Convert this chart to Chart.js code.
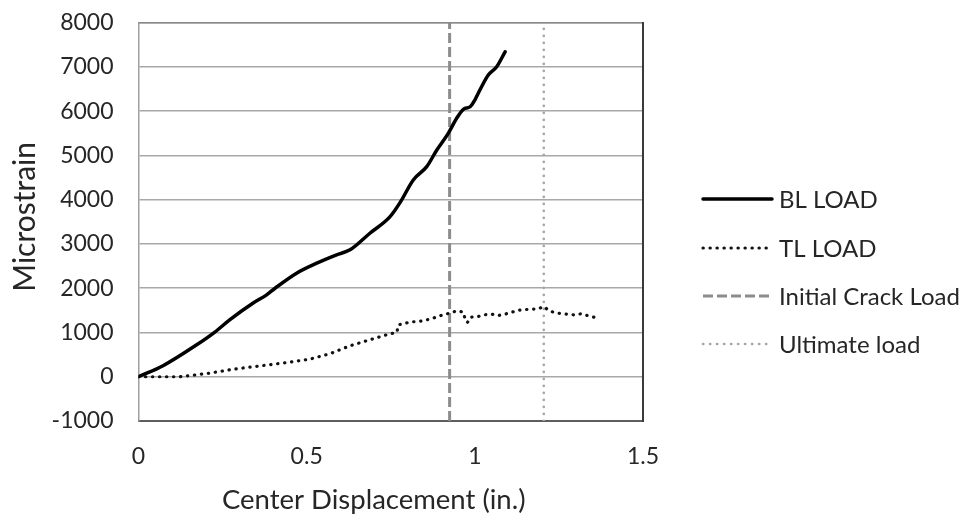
<!DOCTYPE html>
<html>
<head>
<meta charset="utf-8">
<script src="https://cdn.jsdelivr.net/npm/chart.js@4/dist/chart.umd.min.js"></script>
<style>
  html, body { margin: 0; padding: 0; background: #fff; }
  #wrap { width: 968px; height: 518px; position: relative; }
</style>
</head>
<body>
<div id="wrap"><canvas id="c" width="968" height="518"></canvas></div>
<script>
// Bottom-layer gauge: center displacement (in.) vs microstrain
const blDisp = [0, 0.073, 0.173, 0.227, 0.272, 0.341, 0.381, 0.406, 0.470, 0.530, 0.589, 0.629,
  0.688, 0.748, 0.778, 0.817, 0.857, 0.887, 0.921, 0.946, 0.966, 0.986, 1.000, 1.015, 1.040, 1.065, 1.090];
const blStrain = [0, 250, 722, 1010, 1290, 1665, 1851, 2000, 2340, 2566, 2754, 2867,
  3243, 3618, 3940, 4447, 4747, 5124, 5500, 5840, 6043, 6101, 6253, 6479, 6817, 7005, 7343];

// Top-layer gauge
const tlDisp = [0, 0.073, 0.124, 0.173, 0.213, 0.272, 0.331, 0.391, 0.450, 0.510, 0.569, 0.629,
  0.688, 0.748, 0.768, 0.773, 0.807, 0.847, 0.877, 0.906, 0.926, 0.946, 0.966, 0.971, 0.978, 0.988,
  1.010, 1.030, 1.050, 1.070, 1.090, 1.108, 1.125, 1.144, 1.166, 1.186, 1.206, 1.219, 1.233, 1.248,
  1.263, 1.293, 1.318, 1.343, 1.369];
const tlStrain = [0, 0, 0, 45, 83, 158, 218, 271, 331, 399, 519, 700,
  835, 971, 1000, 1174, 1234, 1264, 1325, 1400, 1437, 1490, 1460, 1302, 1226, 1347,
  1361, 1400, 1415, 1384, 1415, 1452, 1497, 1512, 1528, 1528, 1587, 1497, 1460, 1437,
  1422, 1400, 1422, 1362, 1325];

// Reference displacements for the load events
const crackDisp = 0.925;
const ultimateDisp = 1.205;

const xTicks = [0, 0.5, 1, 1.5];
const yTicks = [-1000, 0, 1000, 2000, 3000, 4000, 5000, 6000, 7000, 8000];

const seriesNames = ['BL LOAD', 'TL LOAD', 'Initial Crack Load', 'Ultimate load'];
const xTitle = 'Center Displacement (in.)';
const yTitle = 'Microstrain';

const FONT = 'Lato, "Open Sans", sans-serif';
const TEXT = '#262626';

const pts = (xs, ys) => xs.map((x, i) => ({ x, y: ys[i] }));
const yMin = yTicks[0], yMax = yTicks[yTicks.length - 1];
const vline = (x) => [{ x, y: yMin }, { x, y: yMax }];

// Legend drawn at the right, styled from each dataset
const sideLegend = {
  id: 'sideLegend',
  afterDraw(chart) {
    const ctx = chart.ctx;
    const x0 = 703, x1 = 772, tx = 779;
    const ys = [199, 248, 296, 344];
    ctx.save();
    chart.data.datasets.forEach((ds, i) => {
      ctx.beginPath();
      ctx.strokeStyle = ds.borderColor;
      ctx.lineWidth = ds.borderWidth;
      ctx.lineCap = ds.borderCapStyle || 'butt';
      ctx.setLineDash(ds.borderDash || []);
      ctx.moveTo(x0, ys[i]);
      ctx.lineTo(x1, ys[i]);
      ctx.stroke();
      ctx.setLineDash([]);
      ctx.fillStyle = TEXT;
      ctx.font = '24px ' + FONT;
      ctx.textBaseline = 'middle';
      ctx.textAlign = 'left';
      ctx.fillText(ds.label, tx, ys[i] + 1);
    });
    ctx.restore();
  }
};

// Plot frame (top and right edges) and the two axis titles
const frameAndTitles = {
  id: 'frameAndTitles',
  afterDraw(chart) {
    const { ctx, chartArea: a } = chart;
    ctx.save();
    ctx.lineWidth = 1.5;
    ctx.strokeStyle = '#8a8a8a';
    ctx.beginPath();
    ctx.moveTo(a.left, a.top); ctx.lineTo(a.right, a.top);
    ctx.stroke();
    ctx.lineWidth = 2;
    ctx.strokeStyle = '#3a3a3a';
    ctx.beginPath();
    ctx.moveTo(a.right, a.top - 0.75); ctx.lineTo(a.right, a.bottom + 1);
    ctx.stroke();

    ctx.fillStyle = TEXT;
    ctx.textAlign = 'center';
    ctx.textBaseline = 'middle';
    ctx.font = '27.5px ' + FONT;
    ctx.fillText(xTitle, (a.left + a.right) / 2 - 17, 500);
    ctx.font = '30px ' + FONT;
    ctx.translate(25, (a.top + a.bottom) / 2 - 5);
    ctx.rotate(-Math.PI / 2);
    ctx.fillText(yTitle, 0, 0);
    ctx.restore();
  }
};

new Chart(document.getElementById('c'), {
  type: 'scatter',
  data: {
    datasets: [
      {
        label: seriesNames[0], data: pts(blDisp, blStrain), showLine: true,
        borderColor: '#000', borderWidth: 3.5, pointRadius: 0, tension: 0.2,
        cubicInterpolationMode: 'monotone',
        borderCapStyle: 'round', borderJoinStyle: 'round'
      },
      {
        label: seriesNames[1], data: pts(tlDisp, tlStrain), showLine: true,
        borderColor: '#111', borderWidth: 3.2, pointRadius: 0, tension: 0,
        borderDash: [0.3, 6.7], borderCapStyle: 'round', borderJoinStyle: 'round'
      },
      {
        label: seriesNames[2], data: vline(crackDisp), showLine: true,
        borderColor: '#8c8c8c', borderWidth: 3, pointRadius: 0,
        borderDash: [10, 4], borderCapStyle: 'butt'
      },
      {
        label: seriesNames[3], data: vline(ultimateDisp), showLine: true,
        borderColor: '#a6a6a6', borderWidth: 2.6, pointRadius: 0,
        borderDash: [0.3, 6.7], borderCapStyle: 'round'
      }
    ]
  },
  options: {
    responsive: false,
    animation: false,
    layout: { padding: { left: 0, top: 22.7, right: 325, bottom: 0 } },
    plugins: { legend: { display: false }, tooltip: { enabled: false } },
    scales: {
      x: {
        type: 'linear', min: 0, max: 1.5,
        afterBuildTicks: (s) => { s.ticks = xTicks.map(v => ({ value: v })); },
        afterFit: (s) => { s.height = 97; },
        grid: { display: false, drawTicks: true, tickLength: 22, tickColor: 'rgba(0,0,0,0)' },
        border: { display: true, color: '#5e5e5e', width: 2 },
        ticks: {
          padding: 0, color: TEXT, font: { family: FONT, size: 23 },
          maxRotation: 0, callback: (v) => String(v)
        }
      },
      y: {
        type: 'linear', min: yMin, max: yMax,
        afterBuildTicks: (s) => { s.ticks = yTicks.map(v => ({ value: v })); },
        afterFit: (s) => { s.width = 138.5; },
        grid: {
          display: true, color: '#a8a8a8', lineWidth: 1.5,
          drawTicks: true, tickLength: 25, tickColor: 'rgba(0,0,0,0)'
        },
        border: { display: true, color: '#a0a0a0', width: 1.5 },
        ticks: {
          padding: 0, color: TEXT, font: { family: FONT, size: 23 },
          callback: (v) => String(v)
        }
      }
    }
  },
  plugins: [sideLegend, frameAndTitles]
});
</script>
</body>
</html>
